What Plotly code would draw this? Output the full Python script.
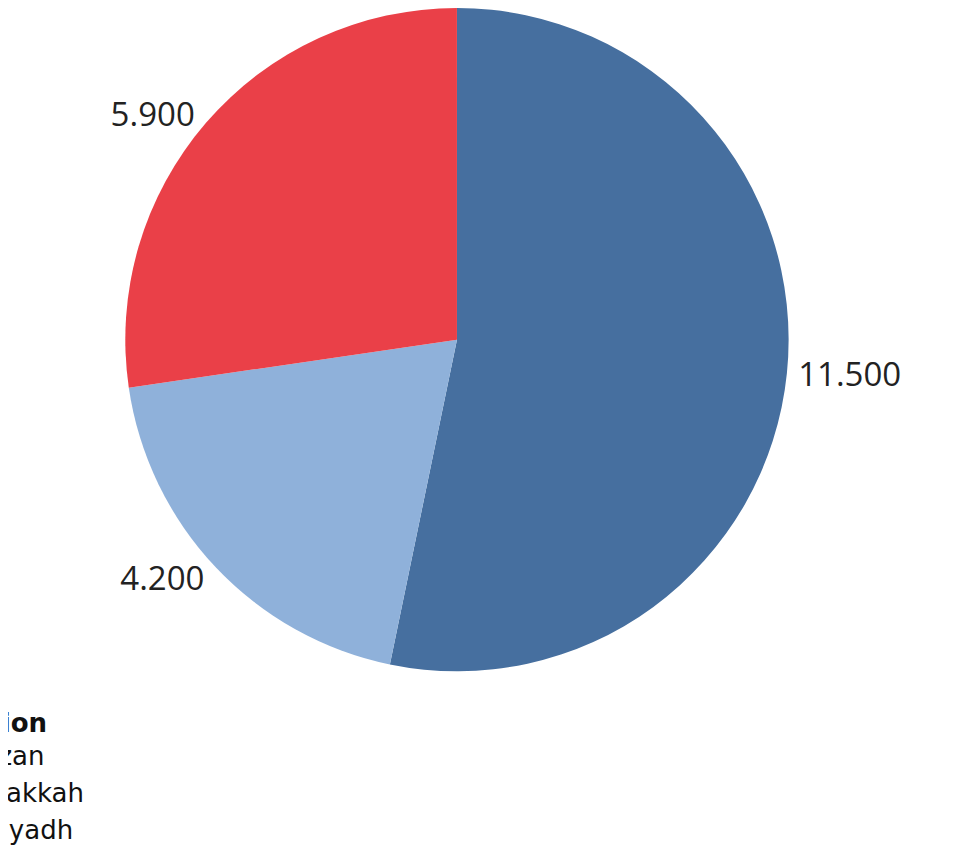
import plotly.graph_objects as go

regions = ["Jizan", "Makkah", "Riyadh"]
counts = [11500, 4200, 5900]
colors = ["#466F9F", "#8FB1DA", "#EA4048"]

fig = go.Figure()

fig.add_trace(go.Pie(
    labels=regions,
    values=counts,
    sort=False,
    direction="clockwise",
    rotation=0,
    marker=dict(colors=colors, line=dict(width=0)),
    texttemplate="%{value:,}",
    textposition="outside",
    textfont=dict(family="Open Sans", size=33, color="#222222"),
    hoverinfo="label+value",
    domain=dict(x=[0.0, 0.92], y=[0.215, 1.0]),
))

fig.update_layout(
    width=976,
    height=845,
    margin=dict(l=0, r=0, t=0, b=0, autoexpand=False),
    separators=",.",
    paper_bgcolor="white",
    plot_bgcolor="white",
    showlegend=True,
    legend=dict(
        orientation="h",
        x=-0.066,
        xanchor="left",
        y=0.0,
        yanchor="bottom",
        title=dict(text="<b>Region</b>", side="top",
                   font=dict(family="DejaVu Sans", size=26, color="#111111")),
        font=dict(family="DejaVu Sans", size=26, color="#111111"),
        entrywidth=230,
        entrywidthmode="pixels",
    ),
)

fig.write_html("out.html")
